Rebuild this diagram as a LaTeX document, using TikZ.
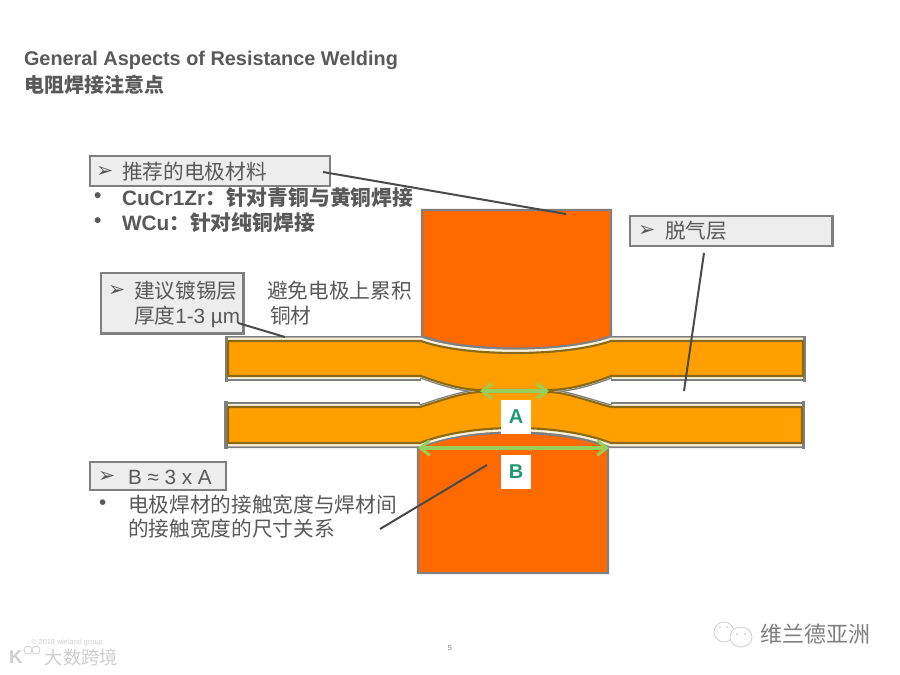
\documentclass[tikz,border=0pt]{standalone}
\usepackage{fontspec}
\setmainfont{Liberation Sans}
\newfontfamily\cjk{Noto Sans CJK SC}
\newfontfamily\sym{DejaVu Sans}
\usetikzlibrary{arrows.meta}
\definecolor{txt}{HTML}{595959}
\definecolor{boxfill}{HTML}{EDEDED}
\definecolor{boxline}{HTML}{7F7F7F}
\definecolor{elec}{HTML}{FF6A00}
\definecolor{strip}{HTML}{FFA000}
\definecolor{edge}{HTML}{8A6A14}
\definecolor{cream}{HTML}{FAF2DC}
\definecolor{lead}{HTML}{4A4A4A}
\definecolor{arrowg}{HTML}{96CF5A}
\definecolor{labg}{HTML}{1F9A70}
\definecolor{wm}{HTML}{CFCFCF}
\tikzset{
  x=0.75pt,y=-0.75pt,
  lab/.style={inner sep=0,outer sep=0,anchor=west,text=txt,font=\fontsize{15.5pt}{18pt}\selectfont},
  labb/.style={lab,font=\fontsize{15.6pt}{18pt}\selectfont\bfseries},
  callout/.style={draw=boxline,fill=boxfill,line width=1.8pt,inner sep=0,outer sep=0,anchor=north west},
  electrode/.style={fill=elec,draw=boxline,line width=1.8pt},
  leader/.style={draw=lead,line width=1.5pt},
  measure/.style={draw=arrowg,line width=2.8pt,{Straight Barb[length=7pt,width=11pt,line width=2.2pt]}-{Straight Barb[length=7pt,width=11pt,line width=2.2pt]}},
  tag/.style={fill=white,inner sep=0,outer sep=0,minimum width=22pt,minimum height=25.5pt,text=labg,font=\fontsize{15pt}{15pt}\selectfont\bfseries},
  wmark/.style={inner sep=0,outer sep=0,text=wm},
  bandgray/.style={draw=boxline,line width=7.5pt},
  bandcream/.style={draw=cream,line width=5pt},
  thingray/.style={draw=boxline,line width=4pt},
  thincream/.style={draw=cream,line width=2pt},
  core/.style={fill=strip,draw=edge,line width=1.6pt,line join=round},
}
% edges of the strips (centre of the dark line)
\newcommand{\uppertop}{(228,341) -- (421,341) .. controls (465,357) and (565,357) .. (611,341) -- (803,341)}
\newcommand{\upperbotflatL}{(228,376) -- (421,376)}
\newcommand{\upperbotflatR}{(611,376) -- (803,376)}
\newcommand{\upperbotcurveL}{(421,376) .. controls (445,385) and (465,390) .. (481,390)}
\newcommand{\upperbotcurveR}{(548,390) .. controls (565,390) and (585,386) .. (611,376)}
\newcommand{\lowertopflatL}{(228,407) -- (420,407)}
\newcommand{\lowertopflatR}{(611,407) -- (802,407)}
\newcommand{\lowertopcurveL}{(420,407) .. controls (445,399) and (465,392) .. (481,392)}
\newcommand{\lowertopcurveR}{(548,392) .. controls (565,392) and (585,400) .. (611,407)}
\newcommand{\lowerbot}{(228,443) -- (420,443) .. controls (470,423) and (560,423) .. (611,443) -- (802,443)}
\begin{document}
\begin{tikzpicture}
\useasboundingbox (0,0) rectangle (900,675);
\fill[white] (0,0) rectangle (900,675);

% title
\node[labb,font=\fontsize{14.9pt}{17pt}\selectfont\bfseries] (t1) at (24,60) {General Aspects of Resistance Welding};
\node[labb,font=\fontsize{15pt}{17pt}\selectfont\bfseries\cjk] (t2) at (24,85) {电阻焊接注意点};

% electrodes
\path[electrode] (422,210) -- (611,210) -- (611,336) .. controls (570,353) and (465,353) .. (422,336) -- cycle;
\path[electrode] (418,573) -- (608,573) -- (608,447) .. controls (565,428) and (460,428) .. (418,447) -- cycle;

% strip outer coatings
\draw[bandgray] \uppertop; \draw[bandcream] \uppertop;
\draw[bandgray] \upperbotflatL; \draw[bandcream] \upperbotflatL;
\draw[bandgray] \upperbotflatR; \draw[bandcream] \upperbotflatR;
\draw[thingray] \upperbotcurveL; \draw[thincream] \upperbotcurveL;
\draw[thingray] \upperbotcurveR; \draw[thincream] \upperbotcurveR;
\draw[bandgray] \lowertopflatL; \draw[bandcream] \lowertopflatL;
\draw[bandgray] \lowertopflatR; \draw[bandcream] \lowertopflatR;
\draw[thingray] \lowertopcurveL; \draw[thincream] \lowertopcurveL;
\draw[thingray] \lowertopcurveR; \draw[thincream] \lowertopcurveR;
\draw[bandgray] \lowerbot; \draw[bandcream] \lowerbot;
% strip end caps
\fill[boxline] (225,336) rectangle (228,382);
\fill[boxline] (803,336) rectangle (806,382);
\fill[boxline] (224,401) rectangle (228,449);
\fill[boxline] (802,401) rectangle (805,449);

% strip cores
\path[core] (228,341) -- (421,341) .. controls (465,357) and (565,357) .. (611,341) -- (803,341) -- (803,376) -- (611,376) .. controls (585,386) and (565,390) .. (548,390) -- (481,390) .. controls (465,390) and (445,385) .. (421,376) -- (228,376) -- cycle;
\path[core] (228,407) -- (420,407) .. controls (445,399) and (465,392) .. (481,392) -- (548,392) .. controls (565,392) and (585,400) .. (611,407) -- (802,407) -- (802,443) -- (611,443) .. controls (560,423) and (470,423) .. (420,443) -- (228,443) -- cycle;

% callouts
\node[callout,minimum width=180pt,minimum height=22.5pt] (b1) at (90,156) {};
\node[lab] (b1a) at (96,172) {\sym ➢};
\node[lab] (b1t) at (122,172) {\cjk 推荐的电极材料};
\node[labb] (d1) at (94,198) {•};
\node[labb] (c1) at (122,198) {CuCr1Zr\cjk：针对青铜与黄铜焊接};
\node[labb] (d2) at (94,223) {•};
\node[labb] (c2) at (122,223) {WCu\cjk：针对纯铜焊接};

\node[callout,minimum width=107pt,minimum height=45.5pt] (b2) at (101,273) {};
\node[lab] (b2a) at (108,291) {\sym ➢};
\node[lab] (b2t) at (134,291) {\cjk 建议镀锡层};
\node[lab] (b2u) at (134,317) {\cjk 厚度\rmfamily 1-3 µm};
\node[lab] (n1) at (267,291) {\cjk 避免电极上累积};
\node[lab] (n2) at (270,316) {\cjk 铜材};

\node[callout,minimum width=152pt,minimum height=22.5pt] (b3) at (630,216) {};
\node[lab] (b3a) at (638,231) {\sym ➢};
\node[lab] (b3t) at (665,231) {\cjk 脱气层};

\node[callout,minimum width=102pt,minimum height=21pt] (b4) at (90,462) {};
\node[lab] (b4a) at (98,477) {\sym ➢};
\node[lab] (b4t) at (128,477) {B ≈ 3 x A};
\node[lab] (d3) at (99,505) {•};
\node[lab] (e1) at (128,505) {\cjk 电极焊材的接触宽度与焊材间};
\node[lab] (e2) at (128,529) {\cjk 的接触宽度的尺寸关系};

% leaders
\coordinate (l1a) at (323,172); \coordinate (l1b) at (566,214);
\coordinate (l2a) at (238,323); \coordinate (l2b) at (285,337);
\coordinate (l3a) at (704,253); \coordinate (l3b) at (684,391);
\coordinate (l4a) at (487,465); \coordinate (l4b) at (380,529);
\draw[leader] (l1a) -- (l1b);
\draw[leader] (l2a) -- (l2b);
\draw[leader] (l3a) -- (l3b);
\draw[leader] (l4a) -- (l4b);

% measures
\coordinate (ma1) at (480,391); \coordinate (ma2) at (549,391);
\coordinate (mb1) at (418,448); \coordinate (mb2) at (609,448);
\draw[measure] (ma1) -- (ma2);
\draw[measure] (mb1) -- (mb2);
\node[tag] (A) at (516,417) {A};
\node[tag] (B) at (516,472) {B};

% page number and watermarks
\node[wmark,text=boxline,font=\fontsize{5.5pt}{6pt}\selectfont] (pg) at (450,648) {5};
\node[wmark,font=\fontsize{5.5pt}{6pt}\selectfont] (w1) at (67,643) {© 2018 wieland group};
\node[wmark,font=\fontsize{13.7pt}{15pt}\selectfont\cjk,anchor=west] (w2) at (45,658) {大数跨境};
\node[wmark,font=\fontsize{14pt}{15pt}\selectfont\bfseries,anchor=west] (w3) at (9,657) {K};
\draw[wm,line width=0.6pt] (28,650) circle (4) (36,650) circle (4);
\node[wmark,text=boxline,font=\fontsize{16.5pt}{17pt}\selectfont\cjk,anchor=west] (w4) at (760,634) {维兰德亚洲};
\draw[wm,line width=0.6pt] (724,632) ellipse (10 and 10);
\draw[wm,fill=white,line width=0.6pt] (741,637) ellipse (11 and 10);
\fill[wm] (720,627) circle (1) (727,627) circle (1) (737,634) circle (1) (745,634) circle (1);
\end{tikzpicture}
\end{document}
